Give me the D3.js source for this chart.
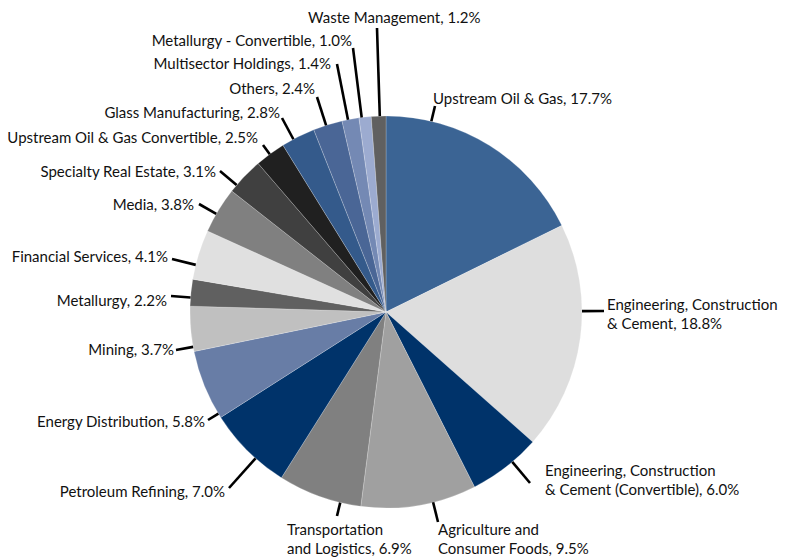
<!DOCTYPE html>
<html>
<head>
<meta charset="utf-8">
<script src="https://cdn.jsdelivr.net/npm/d3@7"></script>
<style>
  html, body { margin: 0; padding: 0; background: #fff; }
  svg { display: block; }
  .lbl { font-family: Lato, "Open Sans", sans-serif; font-size: 15px; fill: #111; }
</style>
</head>
<body>
<svg id="chart" width="786" height="558"></svg>
<script>
// Sector breakdown, clockwise from 12 o'clock
const sectors = [
  ["Upstream Oil & Gas"],
  ["Engineering, Construction", "& Cement"],
  ["Engineering, Construction", "& Cement (Convertible)"],
  ["Agriculture and", "Consumer Foods"],
  ["Transportation", "and Logistics"],
  ["Petroleum Refining"],
  ["Energy Distribution"],
  ["Mining"],
  ["Metallurgy"],
  ["Financial Services"],
  ["Media"],
  ["Specialty Real Estate"],
  ["Upstream Oil & Gas Convertible"],
  ["Glass Manufacturing"],
  ["Others"],
  ["Multisector Holdings"],
  ["Metallurgy - Convertible"],
  ["Waste Management"]
];
const shares = [17.7, 18.8, 6.0, 9.5, 6.9, 7.0, 5.8, 3.7, 2.2, 4.1, 3.8, 3.1, 2.5, 2.8, 2.4, 1.4, 1.0, 1.2];
const palette = [
  "#3b6494", "#dedede", "#00336a", "#a0a0a0", "#808080", "#00336a",
  "#687da6", "#c0c0c0", "#606060", "#e0e0e0", "#808080", "#404040",
  "#202020", "#345a8b", "#4a6696", "#7489b4", "#9cabd0", "#606060"
];

// Label placement: text anchor point, first baseline, and where the leader meets the text
const labelLayout = [
  { x: 433, y: 104, anchor: "start", lead: [435, 106] },
  { x: 607, y: 310, anchor: "start", lead: [604, 311] },
  { x: 545, y: 476, anchor: "start", lead: [530, 483] },
  { x: 438, y: 535, anchor: "start", lead: [438, 522] },
  { x: 287, y: 535, anchor: "start", lead: [337, 516] },
  { x: 225, y: 497, anchor: "end",   lead: [229, 488] },
  { x: 205, y: 427, anchor: "end",   lead: [208, 420] },
  { x: 174, y: 355, anchor: "end",   lead: [176, 350] },
  { x: 167, y: 306, anchor: "end",   lead: [171, 296] },
  { x: 168, y: 262, anchor: "end",   lead: [172, 259] },
  { x: 194, y: 210, anchor: "end",   lead: [199, 204] },
  { x: 216, y: 177, anchor: "end",   lead: [220, 171] },
  { x: 258, y: 143, anchor: "end",   lead: [263, 145] },
  { x: 280, y: 118, anchor: "end",   lead: [282, 118] },
  { x: 315, y: 94,  anchor: "end",   lead: [317, 97] },
  { x: 331, y: 69,  anchor: "end",   lead: [337, 64] },
  { x: 352, y: 46,  anchor: "end",   lead: [353, 48] },
  { x: 308, y: 23,  anchor: "start", lead: [377, 28] }
];

const cx = 386, cy = 312, radius = 196, lineGap = 19;

const svg = d3.select("#chart");
const g = svg.append("g").attr("transform", `translate(${cx},${cy})`);

const pie = d3.pie().sort(null).value(d => d.value);
const arcs = pie(shares.map((v, i) => ({ value: v, name: sectors[i], i })));
const arc = d3.arc().innerRadius(0).outerRadius(radius);

g.selectAll("path.slice")
  .data(arcs)
  .join("path")
  .attr("class", "slice")
  .attr("d", arc)
  .attr("fill", d => palette[d.data.i])
  .attr("stroke", "rgba(255,255,255,0.35)")
  .attr("stroke-width", 0.6);

// Leader lines: from the rim of each slice (at the angle facing its label) out to the label
const fmt = d3.format(".1f");
arcs.forEach(d => {
  const L = labelLayout[d.data.i];
  const ox = L.lead[0] - cx, oy = L.lead[1] - cy;
  let ang = Math.atan2(ox, -oy);
  if (ang < 0) ang += 2 * Math.PI;
  const pad = 0.004;
  ang = Math.max(d.startAngle + pad, Math.min(d.endAngle - pad, ang));
  const ix = radius * Math.sin(ang), iy = -radius * Math.cos(ang);
  g.append("line")
    .attr("x1", ix).attr("y1", iy)
    .attr("x2", ox).attr("y2", oy)
    .attr("stroke", "#000")
    .attr("stroke-width", 2.6);
});

// Label text
arcs.forEach(d => {
  const L = labelLayout[d.data.i];
  const lines = d.data.name.slice();
  lines[lines.length - 1] += ", " + fmt(d.data.value) + "%";
  const t = svg.append("text")
    .attr("class", "lbl")
    .attr("x", L.x).attr("y", L.y)
    .attr("text-anchor", L.anchor);
  lines.forEach((s, k) => {
    t.append("tspan").attr("x", L.x).attr("dy", k === 0 ? 0 : lineGap).text(s);
  });
});
</script>
</body>
</html>
